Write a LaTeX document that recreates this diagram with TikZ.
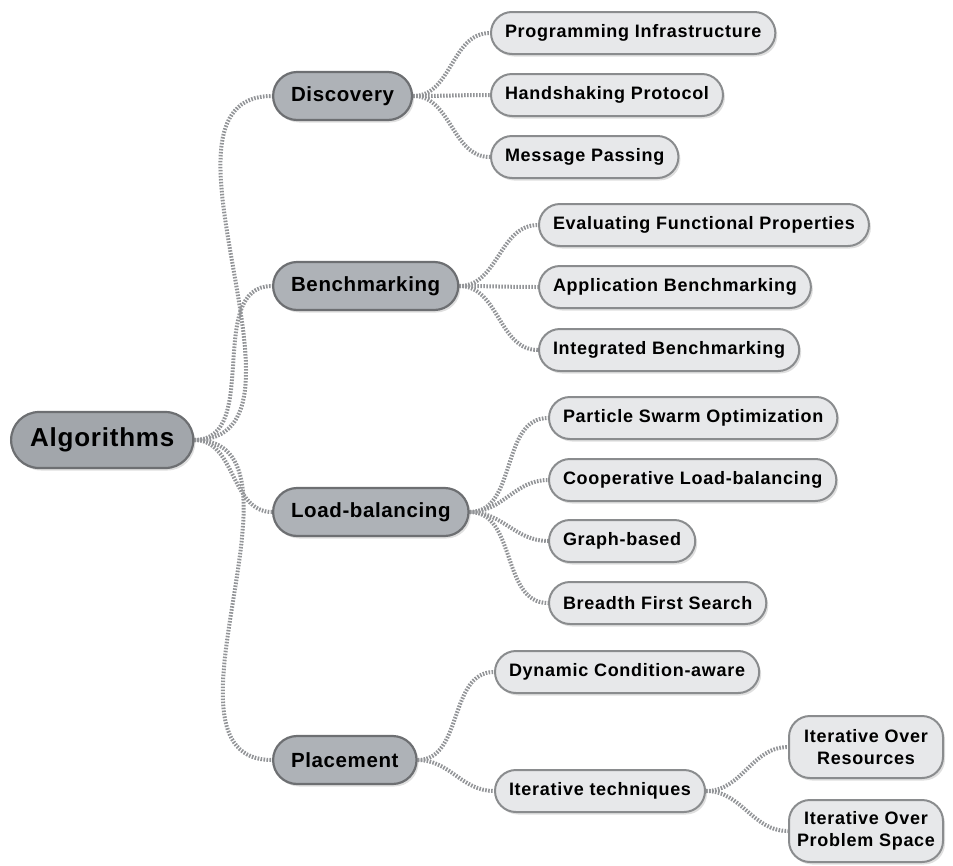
\documentclass[tikz,border=0pt]{standalone}
\usepackage{fontspec}
\setmainfont{Liberation Sans}[LetterSpace=3.0]
\newfontfamily\leaffont{Liberation Sans}[LetterSpace=4.0]
\usetikzlibrary{shadows,backgrounds}

\definecolor{rootfill}{HTML}{A2A6AB}
\definecolor{mainfill}{HTML}{AEB2B7}
\definecolor{leaffill}{HTML}{E7E8EA}
\definecolor{edgegray}{HTML}{6D6F72}
\definecolor{linkgray}{HTML}{929497}

\begin{document}
\begin{tikzpicture}[
    x=1pt, y=-1pt,
    every node/.style={font=\bfseries, align=center, anchor=west},
    pill/.style={rectangle, draw=edgegray, line width=2.2pt, inner ysep=0pt,
        drop shadow={shadow xshift=2pt, shadow yshift=-2.5pt, opacity=0.25}},
    root/.style={pill, fill=rootfill, minimum height=56pt, rounded corners=28pt, inner xsep=19pt,
        font=\bfseries\fontsize{26}{30}\selectfont},
    topic/.style={pill, fill=mainfill, minimum height=48pt, rounded corners=24pt, inner xsep=18pt,
        font=\bfseries\fontsize{20.5}{24}\selectfont},
    leaf/.style={pill, draw=edgegray!80, line width=2pt, fill=leaffill, minimum height=42pt, rounded corners=21pt, inner xsep=14pt,
        font=\leaffont\bfseries\fontsize{18}{22}\selectfont},
    twoline/.style={leaf, minimum height=62pt, minimum width=154pt, inner xsep=4pt},
    link/.style={draw=linkgray, line width=4pt, dash pattern=on 1.6pt off 1.4pt}
]
    \useasboundingbox (0,0) rectangle (953,865);

    % root and topics
    \node (alg) [root] at (10,440) {Algorithms};
    \node (disc) [topic] at (272,96) {Discovery};
    \node (bench) [topic] at (272,286) {Benchmarking};
    \node (lb) [topic] at (272,512) {Load-balancing};
    \node (place) [topic] at (272,760) {Placement};

    % discovery
    \node (prog) [leaf] at (490,33) {Programming Infrastructure};
    \node (hand) [leaf] at (490,95) {Handshaking Protocol};
    \node (msg) [leaf] at (490,157) {Message Passing};

    % benchmarking
    \node (eval) [leaf] at (538,225) {Evaluating Functional Properties};
    \node (appb) [leaf] at (538,287) {Application Benchmarking};
    \node (intb) [leaf] at (538,350) {Integrated Benchmarking};

    % load-balancing
    \node (pso) [leaf] at (548,418) {Particle Swarm Optimization};
    \node (coop) [leaf] at (548,480) {Cooperative Load-balancing};
    \node (graph) [leaf] at (548,541) {Graph-based};
    \node (bfs) [leaf] at (548,603) {Breadth First Search};

    % placement
    \node (dyn) [leaf] at (494,672) {Dynamic Condition-aware};
    \node (iter) [leaf] at (494,791) {Iterative techniques};
    \node (ires) [twoline] at (788,747) {Iterative Over\\Resources};
    \node (iprob) [twoline] at (788,831) {Iterative Over\\Problem Space};

    \begin{scope}[on background layer]
    \foreach \a/\b in {alg/disc, alg/bench, alg/lb, alg/place,
        disc/prog, disc/hand, disc/msg,
        bench/eval, bench/appb, bench/intb,
        lb/pso, lb/coop, lb/graph, lb/bfs,
        place/dyn, place/iter, iter/ires, iter/iprob}
        \draw [link] (\a.east) to[out=0, in=180] (\b.west);
    \end{scope}
\end{tikzpicture}
\end{document}
